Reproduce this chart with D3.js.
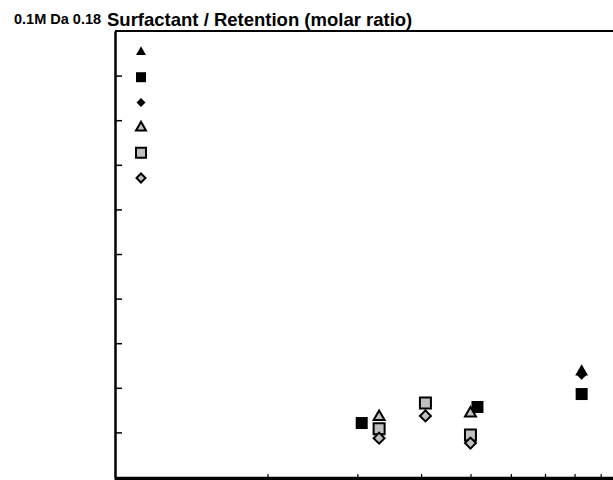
<!DOCTYPE html>
<html>
<head>
<meta charset="utf-8">
<script src="https://cdn.jsdelivr.net/npm/d3@7"></script>
<style>
  body { margin: 0; background: #fff; }
  svg { display: block; font-family: "Liberation Sans", Arial, sans-serif; }
</style>
</head>
<body>
<div id="chart"></div>
<script>
  // legend entries (the original shows no label beside the markers)
  var seriesShapes = ['triangle', 'square', 'diamond', 'triangle', 'square', 'diamond'];
  var seriesFills = ['#000', '#000', '#000', '#c0c0c0', '#c0c0c0', '#c0c0c0'];
  var cornerLabel = '0.1M Da 0.18';
  var titleText = 'Surfactant / Retention (molar ratio)';

  // x values (log axis) and y values per series
  var triBlackX = [8.26];
  var triBlackY = [0.236];
  var sqBlackX = [3.06, 5.16, 8.26];
  var sqBlackY = [0.121, 0.157, 0.186];
  var diaBlackX = [8.26];
  var diaBlackY = [0.229];
  var triGrayX = [3.31, 5.0];
  var triGrayY = [0.135, 0.143];
  var sqGrayX = [3.31, 4.08, 5.0];
  var sqGrayY = [0.108, 0.166, 0.094];
  var diaGrayX = [3.31, 4.08, 5.0];
  var diaGrayY = [0.087, 0.137, 0.076];

  var xTicks = [2, 3, 4, 5, 6, 7, 8, 9];
  var yTicks = [0.1, 0.2, 0.3, 0.4, 0.5, 0.6, 0.7, 0.8, 0.9];

  var width = 613, height = 480;

  var svg = d3.select('#chart').append('svg')
              .attr('width', width)
              .attr('height', height);

  var x = d3.scaleLog()
            .domain([1, 10])
            .range([114, 624]);
  var y = d3.scaleLinear()
            .domain([0, 1])
            .range([477, 31]);

  // top frame line
  svg.append('line')
     .attr('x1', 115).attr('x2', width)
     .attr('y1', y(1)).attr('y2', y(1))
     .attr('stroke', '#000')
     .attr('stroke-width', 2);

  var xAxis = svg.append('g')
                 .attr('transform', 'translate(0,' + 478 + ')')
                 .call(d3.axisBottom(x).tickValues(xTicks).tickSizeInner(-4).tickSizeOuter(0).tickFormat(''));
  xAxis.select('.domain').attr('stroke-width', 3.5);
  xAxis.selectAll('.tick line').attr('stroke-width', 1.2);

  var yAxis = svg.append('g')
                 .attr('transform', 'translate(115,0)')
                 .call(d3.axisLeft(y).tickValues(yTicks).tickSizeInner(-7).tickSizeOuter(0).tickFormat(''));
  yAxis.select('.domain').attr('stroke-width', 2.5);
  yAxis.selectAll('.tick line').attr('stroke-width', 1.5);

  function shapePath(shape, s){
    if(shape == 'triangle'){
      return d3.symbol().type(d3.symbolTriangle).size(s * s * 0.43)();
    } else if(shape == 'square'){
      return d3.symbol().type(d3.symbolSquare).size(s * s)();
    }
    // diamond: a square turned 45 degrees
    return d3.symbol().type(d3.symbolSquare).size(s * s / 2)();
  }

  function drawPoints(xs, ys, idx, s){
    var shape = seriesShapes[idx];
    var gray = seriesFills[idx] != '#000';
    svg.append('g').selectAll('path')
       .data(d3.zip(xs, ys))
       .enter()
       .append('path')
       .attr('d', shapePath(shape, s))
       .attr('transform', function(d){
         return 'translate(' + x(d[0]) + ',' + y(d[1]) + ')' + (shape == 'diamond' ? ' rotate(45)' : '');
       })
       .attr('fill', seriesFills[idx])
       .attr('stroke', '#000')
       .attr('stroke-width', gray ? 2 : 0)
       .attr('stroke-linejoin', 'miter');
  }

  drawPoints(diaBlackX, diaBlackY, 2, 10);
  drawPoints(triBlackX, triBlackY, 0, 13);
  drawPoints(sqBlackX, sqBlackY, 1, 12);
  drawPoints(triGrayX, triGrayY, 3, 11);
  drawPoints(sqGrayX, sqGrayY, 4, 11);
  drawPoints(diaGrayX, diaGrayY, 5, 11);

  // legend markers
  var legendSizes = [10, 10, 9, 10, 10, 9];
  var legend = svg.append('g');
  seriesShapes.forEach(function(shape, i){
    var gray = seriesFills[i] != '#000';
    legend.append('path')
          .attr('d', shapePath(shape, legendSizes[i]))
          .attr('transform', 'translate(141,' + (52 + i * 25.2) + ')' + (shape == 'diamond' ? ' rotate(45)' : ''))
          .attr('fill', seriesFills[i])
          .attr('stroke', '#000')
          .attr('stroke-width', gray ? 2 : 0);
  });

  svg.append('text')
     .attr('x', 14)
     .attr('y', 24)
     .attr('font-size', 14.5)
     .attr('font-weight', 'bold')
     .text(cornerLabel);

  svg.append('text')
     .attr('x', 107)
     .attr('y', 26)
     .attr('font-size', 18.5)
     .attr('font-weight', 'bold')
     .text(titleText);
</script>
</body>
</html>
